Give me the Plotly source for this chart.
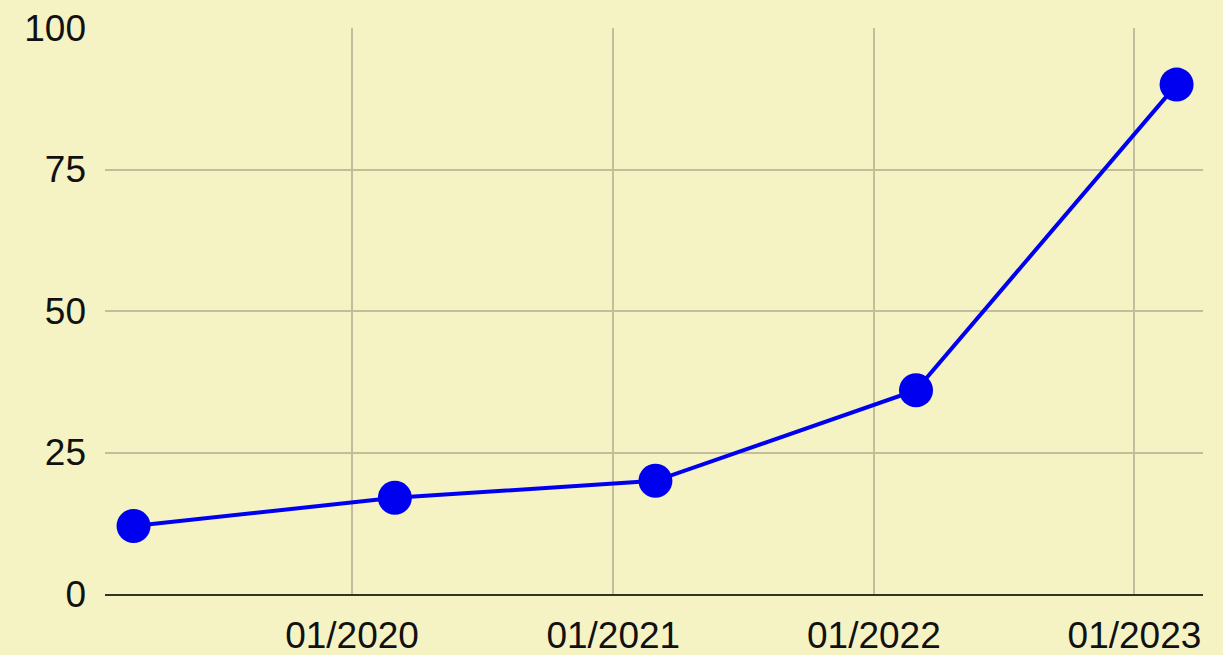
import plotly.graph_objects as go

dates = ["2019-03-01", "2020-03-01", "2021-03-01", "2022-03-01", "2023-03-01"]
values = [12, 17, 20, 36, 90]
x_ticks = ["2020-01-01", "2021-01-01", "2022-01-01", "2023-01-01"]
x_tick_labels = ["01/2020", "01/2021", "01/2022", "01/2023"]
y_ticks = [0, 25, 50, 75, 100]

bg = "#F5F2C4"
fig = go.Figure(go.Scatter(
    x=dates, y=values, mode="lines+markers",
    line=dict(color="#0000F0", width=4),
    marker=dict(color="#0000F0", size=34),
    cliponaxis=False,
))
fig.update_layout(
    width=1223, height=655,
    paper_bgcolor=bg, plot_bgcolor=bg,
    margin=dict(l=105, r=20, t=28, b=61),
    showlegend=False,
    font=dict(family="Liberation Sans, Arial, sans-serif", size=37, color="#111111"),
)
fig.update_xaxes(
    type="date", range=["2019-01-20", "2023-04-07"],
    tickvals=x_ticks, ticktext=x_tick_labels,
    showgrid=True, gridcolor="#C2BE9C", gridwidth=2,
    showline=True, linecolor="#333322", linewidth=2,
    zeroline=False, ticks="", ticklabelstandoff=8, automargin=False,
)
fig.update_yaxes(
    range=[0, 100], tickvals=y_ticks,
    showgrid=True, gridcolor="#C2BE9C", gridwidth=2,
    showline=False, zeroline=False, ticks="", ticklabelstandoff=18, automargin=False,
)
fig.write_html("out.html", config={"displayModeBar": False},
               post_script="document.body.style.margin='0';")
